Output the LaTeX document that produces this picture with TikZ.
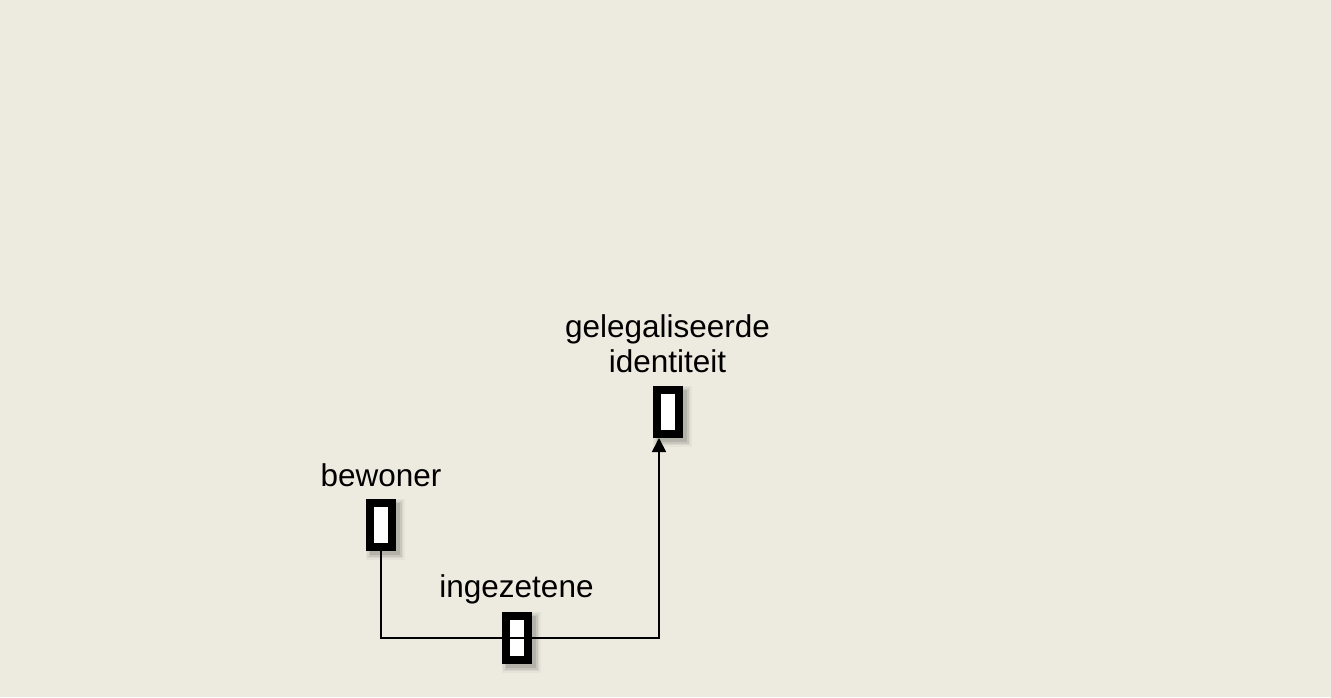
\documentclass[tikz,border=0pt]{standalone}
\usepackage{fontspec}
\setmainfont{Liberation Sans}
\usetikzlibrary{calc,arrows.meta,backgrounds}
\definecolor{bgcol}{HTML}{EDEAE0}
\tikzset{
  idbox/.style={draw=black, line width=8pt, fill=white, minimum width=22pt, minimum height=44pt, inner sep=0pt},
  lbl/.style={font=\fontsize{31.5}{35.5}\selectfont, inner sep=0pt, anchor=base, align=center},
  conn/.style={line width=1.7pt, draw=black},
}
\newcommand{\boxshade}[1]{%
  \begin{pgfonlayer}{background}
    \foreach \s/\o in {0/0.10,1.5/0.07,3/0.05,4.5/0.03}{
      \fill[black,opacity=\o] ($(#1.north west)+(4-\s,4-\s)$) rectangle ($(#1.south east)+(4+\s,4+\s)$);
    }
  \end{pgfonlayer}}
\begin{document}
\begin{tikzpicture}[x=1pt,y=-1pt]
  \begin{pgfonlayer}{background}
    \fill[bgcol] (0,0) rectangle (1331,697);
  \end{pgfonlayer}
  \useasboundingbox (0,0) rectangle (1331,697);
  % labels
  \node[lbl] (tgel) at (667.5,372.5) {gelegaliseerde\\identiteit};
  \node[lbl] (tbew) at (381,486) {bewoner};
  \node[lbl] (ting) at (516.5,597) {ingezetene};
  % boxes
  \node[idbox] (gel) at (668,412) {};
  \node[idbox] (bew) at (381,525) {};
  \node[idbox] (ing) at (517,638) {};
  \boxshade{gel}
  \boxshade{bew}
  \boxshade{ing}
  % connector
  \coordinate (gin) at ($(gel.south)+(-9,0)$);
  \draw[conn,-{Triangle[length=14pt,width=14pt]}] (bew.south) |- (ing.center) -| (gin);
\end{tikzpicture}
\end{document}
